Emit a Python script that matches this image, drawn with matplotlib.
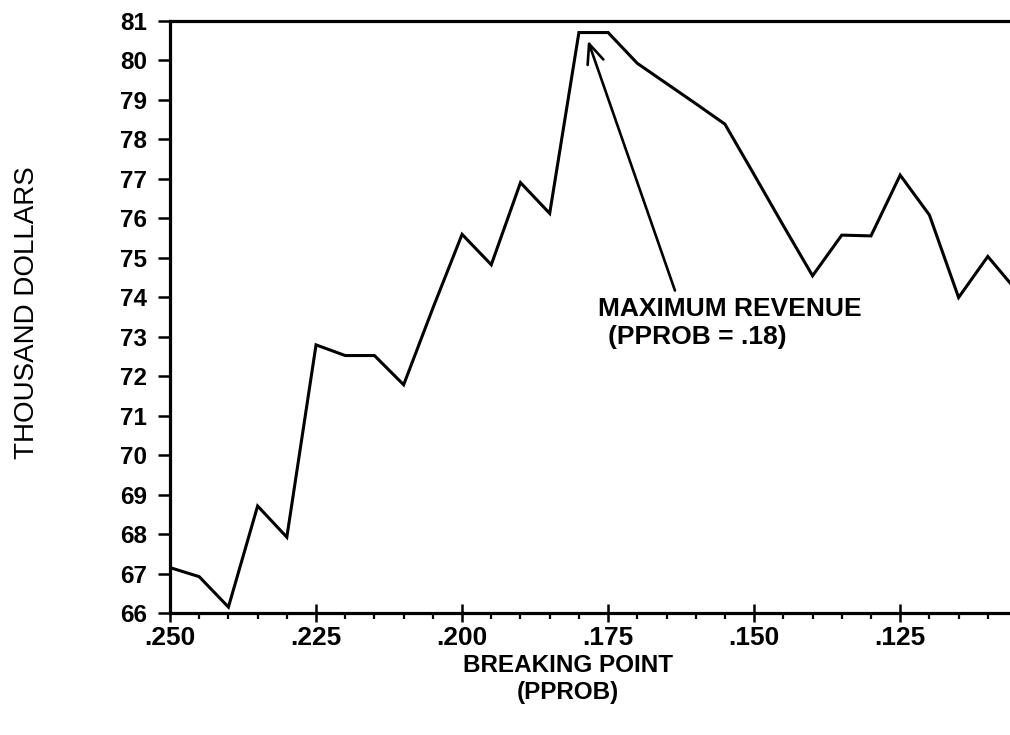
import matplotlib
matplotlib.use("Agg")
import matplotlib.pyplot as plt
from matplotlib.ticker import MultipleLocator, FuncFormatter

# Daten
pprob = [0.250, 0.245, 0.240, 0.235, 0.230, 0.225, 0.220, 0.215, 0.210, 0.205,
         0.200, 0.195, 0.190, 0.185, 0.180, 0.175, 0.170, 0.165, 0.160, 0.155,
         0.150, 0.145, 0.140, 0.135, 0.130, 0.125, 0.120, 0.115, 0.110, 0.105]
revenue = [67.15, 66.92, 66.15, 68.71, 67.92, 72.79, 72.52, 72.52, 71.78, 73.72,
           75.59, 74.82, 76.90, 76.12, 80.70, 80.70, 79.92, 79.41, 78.90, 78.38,
           77.10, 75.81, 74.54, 75.57, 75.55, 77.09, 76.08, 73.99, 75.03, 74.15]
major_ticks = [0.250, 0.225, 0.200, 0.175, 0.150, 0.125]
y_ticks = list(range(66, 82))

plt.rcParams["font.family"] = ["Liberation Sans", "DejaVu Sans"]

fig = plt.figure(figsize=(10.10, 7.35), dpi=100)
ax = fig.add_axes([170 / 1010, 1 - 613 / 735, 1 - 170 / 1010, (613 - 20.7) / 735])

ax.plot(pprob, revenue, color="black", lw=2.2, solid_joinstyle="miter")

ax.set_xlim(0.250, 0.1062)
ax.set_ylim(66, 81)
ax.set_xticks(major_ticks)
ax.xaxis.set_minor_locator(MultipleLocator(0.005))
ax.xaxis.set_major_formatter(FuncFormatter(lambda v, p: f"{v:.3f}"[1:]))
ax.set_yticks(y_ticks)

for s in ["left", "bottom", "top"]:
    ax.spines[s].set_linewidth(2.3)
ax.spines["right"].set_visible(False)

ax.tick_params(axis="y", direction="out", length=8.6, width=1.8, pad=8,
               labelsize=17.5)
ax.tick_params(axis="x", which="major", direction="inout", length=13, width=1.8,
               pad=3, labelsize=19)
ax.tick_params(axis="x", which="minor", direction="out", length=4, width=1.6)
for lab in ax.get_yticklabels() + ax.get_xticklabels():
    lab.set_fontweight("bold")

# Annotation: Maximum
ax.annotate("", xy=(0.1786, 80.56), xytext=(0.1634, 74.10),
            arrowprops=dict(arrowstyle="->,head_length=1.4,head_width=0.6",
                            mutation_scale=10, color="black", lw=1.9))
ax.text(0.1767, 73.52, "MAXIMUM REVENUE", fontsize=19, fontweight="bold",
        ha="left", va="baseline")
ax.text(0.1750, 72.82, "(PPROB = .18)", fontsize=19, fontweight="bold",
        ha="left", va="baseline")

fig.text(568 / 1010, 1 - 665 / 735, "BREAKING POINT", fontsize=17.5,
         fontweight="bold", ha="center", va="center")
fig.text(568 / 1010, 1 - 692 / 735, "(PPROB)", fontsize=17.5,
         fontweight="bold", ha="center", va="center")
fig.text(27 / 1010, 1 - 313 / 735, "THOUSAND DOLLARS", fontsize=20,
         rotation=90, ha="center", va="center")

fig.savefig("out.png", dpi=100)
